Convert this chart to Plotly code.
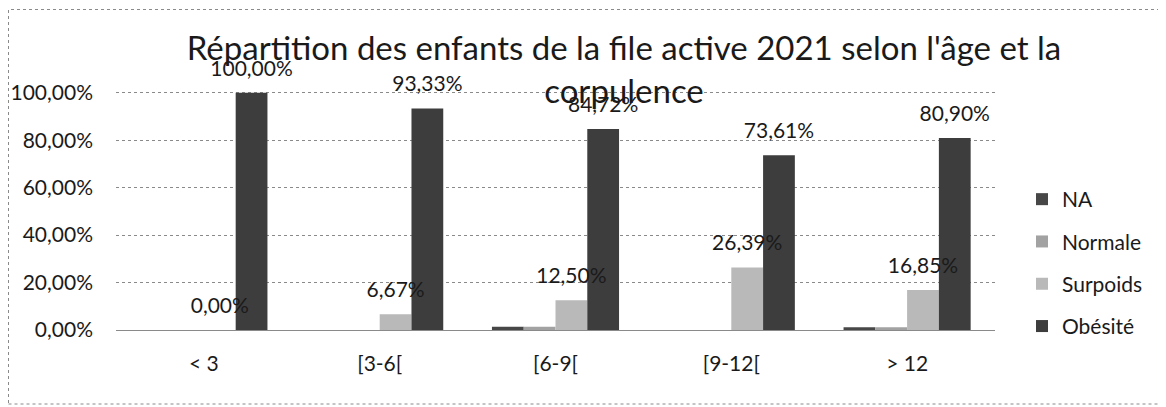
import plotly.graph_objects as go

categories = ["< 3", "[3-6[", "[6-9[", "[9-12[", "> 12"]
series_names = ["NA", "Normale", "Surpoids", "Obésité"]
na_values = [0.0, 0.0, 0.0139, 0.0, 0.0112]
normale_values = [0.0, 0.0, 0.0139, 0.0, 0.0112]
surpoids_values = [0.0, 0.0667, 0.1250, 0.2639, 0.1685]
obesite_values = [1.0, 0.9333, 0.8472, 0.7361, 0.8090]
labelled_series = ["Surpoids", "Obésité"]
colors = ["#474747", "#a2a2a2", "#b9b9b9", "#3d3d3d"]

FONT = "Lato"
OFF = 8  # page body margin
YMAX = 1.1
W, H = 1166 - OFF, 407 - OFF
L, R, T, B = 116 - OFF, 171, 69 - OFF, 77
pw = W - L - R
ph = H - T - B
LABEL_LIFT = 0.043  # pushes the value labels a little higher above the bars


def px_x(p):
    return (p - OFF - L) / pw


def px_y(p):
    return (H - B - (p - OFF)) / ph


all_values = dict(zip(series_names, [na_values, normale_values, surpoids_values, obesite_values]))

fig = go.Figure()
for i, name in enumerate(series_names):
    fig.add_trace(go.Bar(x=categories, y=all_values[name], name=name,
                         marker_color=colors[i], marker_line_width=0,
                         offsetgroup=name, legendgroup=name))

# value labels drawn on top of all bars
for name in labelled_series:
    fig.add_trace(go.Bar(x=categories, y=all_values[name], base=LABEL_LIFT,
                         offsetgroup=name, showlegend=False, hoverinfo="skip",
                         marker_color="rgba(0,0,0,0)", marker_line_width=0,
                         texttemplate="%{y:.2%}", textposition="outside",
                         textfont=dict(family=FONT, size=21, color="#1a1a1a"),
                         constraintext="none", cliponaxis=False))

fig.update_layout(
    width=W, height=H,
    margin=dict(l=L, r=R, t=T, b=B, autoexpand=False),
    paper_bgcolor="white", plot_bgcolor="white",
    separators=", ",
    barmode="group", bargap=0.277, bargroupgap=0,
    font=dict(family=FONT, size=21, color="#1a1a1a"),
    title=dict(text="Répartition des enfants de la file active 2021 selon l'âge et la<br>corpulence",
               font=dict(family=FONT, size=33, color="#1a1a1a"),
               x=(624 - OFF) / W, xanchor="center", xref="container",
               y=1 - (60 - OFF) / H, yanchor="top", yref="container"),
    xaxis=dict(showgrid=False, showline=False, ticks="", ticklabelstandoff=19,
               tickfont=dict(family=FONT, size=21)),
    yaxis=dict(range=[0, YMAX], tickvals=[0, 0.2, 0.4, 0.6, 0.8, 1.0], tickformat=".2%",
               showgrid=True, gridcolor="#8a8a8a", griddash="dot", gridwidth=1,
               zeroline=True, zerolinecolor="#8a8a8a", zerolinewidth=1,
               showline=False, ticks="", ticklabelstandoff=22,
               tickfont=dict(family=FONT, size=21)),
    legend=dict(x=(1022 - OFF) / W, xref="container", xanchor="left",
                y=px_y(179), yanchor="top",
                traceorder="grouped", tracegroupgap=12,
                font=dict(family=FONT, size=21, color="#1a1a1a"),
                bgcolor="rgba(0,0,0,0)"),
    shapes=[dict(type="rect", xref="paper", yref="paper",
                 x0=px_x(8.5), x1=px_x(1200), y0=px_y(404), y1=px_y(9.5),
                 line=dict(color="#8a8a8a", width=1, dash="dot"), layer="below")],
)

fig.write_html("out.html")
